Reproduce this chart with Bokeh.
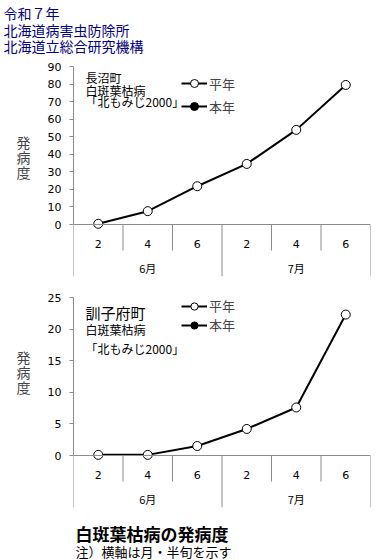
from bokeh.plotting import figure
from bokeh.models import (Range1d, FixedTicker, Span, Label, Legend, LegendItem,
                          ColumnDataSource)
from bokeh.layouts import column
from bokeh.core.properties import value
from bokeh.embed import file_html
from bokeh.resources import INLINE

# ---- data ----
header_lines = ["令和７年", "北海道病害虫防除所", "北海道立総合研究機構"]
months = ["6月", "7月"]
pentads = ["2", "4", "6", "2", "4", "6"]
naganuma_avg = [0.4, 7.6, 21.8, 34.5, 53.9, 79.5]
naganuma_now = []
kunneppu_avg = [0.1, 0.1, 1.5, 4.2, 7.6, 22.3]
kunneppu_now = []
naganuma_ticks = [0, 10, 20, 30, 40, 50, 60, 70, 80, 90]
kunneppu_ticks = [0, 5, 10, 15, 20, 25]
ytitle = "発\n病\n度"
footer_title = "白斑葉枯病の発病度"
footer_note = "注）横軸は月・半旬を示す"

JP = "Noto Sans CJK JP"
NUM = "DejaVu Sans"
GRAY = "#8c8c8c"
W = 390
AXIS_PX = 158      # pixel height of the value axis
TIER_PX = 26       # pixel height of each category tier


def blank(height):
    p = figure(width=W, height=height, output_backend="svg", toolbar_location=None,
               x_axis_location=None, y_axis_location=None, min_border=0,
               x_range=Range1d(0, 1), y_range=Range1d(0, 1))
    p.outline_line_color = None
    p.grid.visible = False
    p.frame_align = False
    return p


def add_text(p, txt, x, y, size, color="black", bold=False):
    p.add_layout(Label(x=x, y=y, x_units="screen", y_units="screen", text=txt,
                       text_font=JP, text_font_size=size,
                       text_font_style="bold" if bold else "normal",
                       text_align="left", text_baseline="middle",
                       text_color=color))


def make_panel(avg, now, ticks, height, top, bottom, legend_loc, glyph_h,
               legend_spacing, title_pad, title_lh, notes):
    ymax = ticks[-1]
    ylow = -ymax * 2 * TIER_PX / AXIS_PX
    tier1 = -ymax * TIER_PX / AXIS_PX
    n = len(pentads)
    p = figure(width=W, height=height, output_backend="svg",
               toolbar_location=None, x_axis_location=None,
               x_range=Range1d(0, n), y_range=Range1d(ylow, ymax),
               min_border=0, min_border_left=73, min_border_right=20,
               min_border_top=top, min_border_bottom=bottom)
    p.outline_line_color = None
    p.grid.visible = False

    ax = p.yaxis[0]
    ax.ticker = FixedTicker(ticks=ticks)
    ax.bounds = (0, ymax)
    ax.axis_line_color = GRAY
    ax.major_tick_line_color = GRAY
    ax.major_tick_out = 4
    ax.major_tick_in = 0
    ax.minor_tick_line_color = None
    ax.major_label_standoff = 8
    ax.major_label_text_font = NUM
    ax.major_label_text_font_size = "11px"
    ax.major_label_text_color = "black"
    ax.axis_label = ytitle + "\n　" * title_pad
    ax.axis_label_orientation = "horizontal"
    ax.axis_label_text_font = JP
    ax.axis_label_text_font_size = "14px"
    ax.axis_label_text_font_style = "normal"
    ax.axis_label_text_line_height = title_lh
    ax.axis_label_standoff = 14
    ax.axis_label_text_align = "center"

    # category axis (Excel style, two tiers)
    p.add_layout(Span(location=0, dimension="width", line_color=GRAY, line_width=1))
    inner = [i for i in range(1, n) if i % 3 != 0]
    outer = [0, 3, 6]
    p.segment(x0=inner, x1=inner, y0=[0] * len(inner), y1=[tier1] * len(inner),
              line_color=GRAY, line_width=1)
    p.segment(x0=outer, x1=outer, y0=[0] * len(outer), y1=[ylow] * len(outer),
              line_color=GRAY, line_width=1)
    xs = [i + 0.5 for i in range(n)]
    p.text(x=xs, y=[0] * n, text=pentads, y_offset=19,
           text_align="center", text_baseline="middle",
           text_font=value(NUM), text_font_size=value("11px"), text_color="black")
    p.text(x=[1.5, 4.5], y=[0, 0], text=months, y_offset=43,
           text_align="center", text_baseline="middle",
           text_font=value(JP), text_font_size=value("11px"), text_color="black")

    # series
    src = ColumnDataSource(dict(x=xs[:len(avg)], y=avg))
    l1 = p.line("x", "y", source=src, line_color="black", line_width=2)
    s1 = p.scatter("x", "y", source=src, size=9, fill_color="white",
                   line_color="black", line_width=1)
    now_y = now if now else [float("nan")]
    src2 = ColumnDataSource(dict(x=xs[:len(now_y)], y=now_y))
    l2 = p.line("x", "y", source=src2, line_color="black", line_width=2)
    s2 = p.scatter("x", "y", source=src2, size=9, fill_color="black",
                   line_color="black", line_width=1)
    leg = Legend(items=[LegendItem(label="平年", renderers=[l1, s1]),
                        LegendItem(label="本年", renderers=[l2, s2])],
                 location=legend_loc, padding=0, margin=0, spacing=legend_spacing,
                 glyph_width=26, glyph_height=glyph_h, label_height=glyph_h,
                 label_standoff=2,
                 label_text_font=JP, label_text_font_size="13px",
                 border_line_color=None, background_fill_alpha=0)
    p.add_layout(leg, "center")

    for (txt, x, y, size) in notes:
        add_text(p, txt, x, y, size)
    return p


# header
hdr = blank(58)
add_text(hdr, header_lines[0], 3, 46, "14px", "#000080")
add_text(hdr, header_lines[1], 3, 29, "14px", "#000080")
add_text(hdr, header_lines[2], 3, 13, "14px", "#000080")

notes1 = [
    ("長沼町", 12, 199, "12px"),
    ("白斑葉枯病", 12, 186, "12px"),
    ("「北もみじ2000」", 12, 175, "12px"),
]
p1 = make_panel(naganuma_avg, naganuma_now, naganuma_ticks, 222, 8, 4,
                (108, 160), 20, 3, 2, 0.74, notes1)

notes2 = [
    ("訓子府町", 12, 195, "15px"),
    ("白斑葉枯病", 12, 178, "12px"),
    ("「北もみじ2000」", 12, 159, "12px"),
]
p2 = make_panel(kunneppu_avg, kunneppu_now, kunneppu_ticks, 235, 17, 8,
                (108, 173), 18, 0, 4, 0.76, notes2)

ftr = blank(45)
add_text(ftr, footer_title, 75, 27, "17px", bold=True)
add_text(ftr, footer_note, 75, 9, "13px")

layout = column(hdr, p1, p2, ftr, spacing=0)
open("out.html", "w").write(file_html(layout, INLINE))
